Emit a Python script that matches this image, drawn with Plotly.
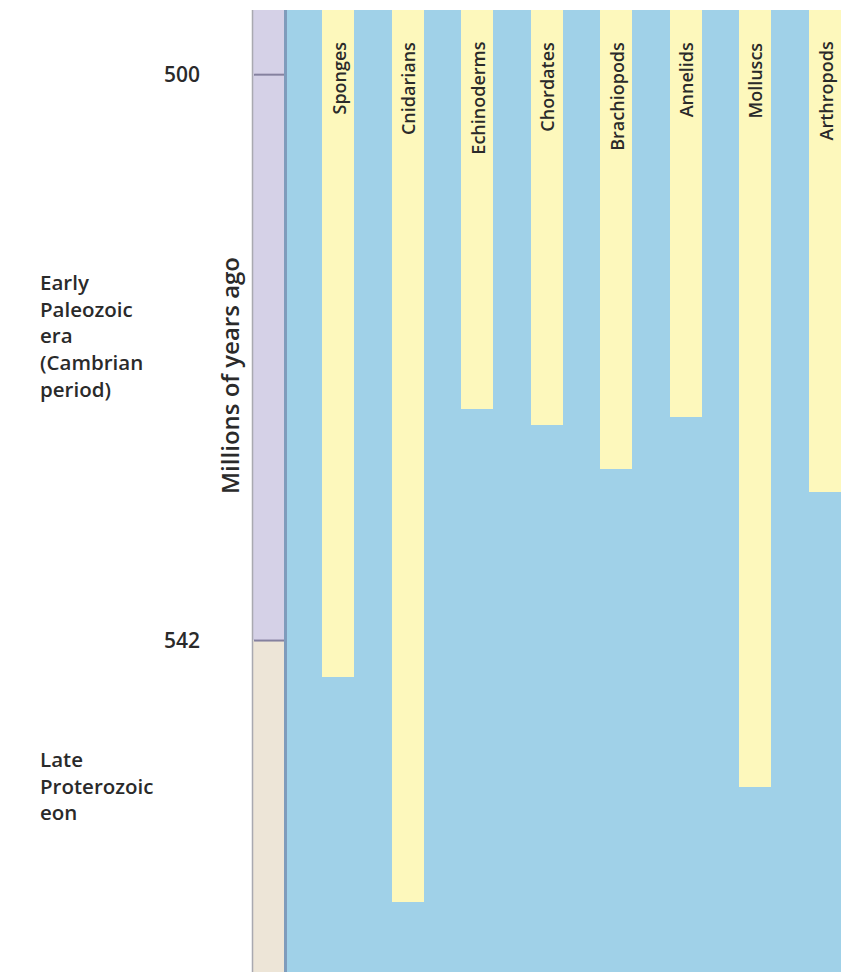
import plotly.graph_objects as go

# ---- data ----
categories = ["Sponges", "Cnidarians", "Echinoderms", "Chordates",
              "Brachiopods", "Annelids", "Molluscs", "Arthropods"]
# oldest fossil appearance (millions of years ago) - bottom end of each bar
first_appearance_mya = [544.7, 561.4, 524.8, 526.0, 529.3, 525.4, 552.9, 531.0]
axis_top_mya = 495.2
axis_bottom_mya = 566.6
tick_values = [500, 542]
tick_labels = ["500", "542"]
boundary_mya = 542
era_upper_lines = ["Early", "Paleozoic", "era", "(Cambrian", "period)"]
era_lower_lines = ["Late", "Proterozoic", "eon"]
y_title = "Millions of years ago"

# ---- style ----
W, H = 841, 972
BLUE = "#a0d1e8"
YELLOW = "#fdf8bc"
LAVENDER = "#d5d1e7"
BEIGE = "#ede5d7"
TXT = "#2a2a2a"
FONT = "Open Sans"

x_idx = list(range(len(categories)))
fig = go.Figure()
fig.add_trace(go.Bar(
    x=x_idx,
    y=[v - axis_top_mya for v in first_appearance_mya],
    base=axis_top_mya,
    width=0.46,
    marker=dict(color=YELLOW, line=dict(width=0)),
    hoverinfo="skip",
))

def px(x):
    return x / W

def py(y):
    return 1 - y / H

shapes = []
# time strip
shapes.append(dict(type="rect", xref="paper", yref="y", x0=px(253), x1=px(285),
                   y0=axis_top_mya, y1=boundary_mya, fillcolor=LAVENDER, line=dict(width=0), layer="above"))
shapes.append(dict(type="rect", xref="paper", yref="y", x0=px(253), x1=px(285),
                   y0=boundary_mya, y1=axis_bottom_mya, fillcolor=BEIGE, line=dict(width=0), layer="above"))
for tv in tick_values:
    shapes.append(dict(type="line", xref="paper", yref="y", x0=px(254), x1=px(284),
                       y0=tv, y1=tv, line=dict(color="#85819f", width=2), layer="above"))
shapes.append(dict(type="line", xref="paper", yref="y", x0=px(252.5), x1=px(252.5),
                   y0=axis_top_mya, y1=axis_bottom_mya, line=dict(color="#a9a9b0", width=1.5), layer="above"))
shapes.append(dict(type="line", xref="paper", yref="y", x0=px(285.5), x1=px(285.5),
                   y0=axis_top_mya, y1=axis_bottom_mya, line=dict(color="#7f9cbc", width=3), layer="above"))

annotations = []
for i, name in enumerate(categories):
    annotations.append(dict(x=i, xref="x", y=py(40), yref="paper", yanchor="top", xanchor="center",
                            text=name, textangle=-90, showarrow=False,
                            font=dict(family=FONT, size=18, color=TXT, weight=600)))
annotations.append(dict(x=px(38), xref="paper", y=py(335), yref="paper",
                        xanchor="left", yanchor="middle", align="left",
                        text="<br>".join(era_upper_lines), showarrow=False,
                        font=dict(family=FONT, size=20.5, color=TXT, weight=600)))
annotations.append(dict(x=px(38), xref="paper", y=py(785), yref="paper",
                        xanchor="left", yanchor="middle", align="left",
                        text="<br>".join(era_lower_lines), showarrow=False,
                        font=dict(family=FONT, size=20.5, color=TXT, weight=600)))
annotations.append(dict(x=px(229), xref="paper", y=py(376), yref="paper", xanchor="center", yanchor="middle",
                        text=y_title, textangle=-90, showarrow=False,
                        font=dict(family=FONT, size=24, color=TXT, weight=600)))

fig.update_layout(
    width=W, height=H,
    margin=dict(l=0, r=0, t=0, b=0),
    paper_bgcolor="white",
    plot_bgcolor=BLUE,
    showlegend=False,
    bargap=0,
    xaxis=dict(domain=[px(287), 1], range=[-0.733, 7.23], visible=False, fixedrange=True),
    yaxis=dict(domain=[0, py(10)], range=[axis_bottom_mya, axis_top_mya],
               tickvals=tick_values, ticktext=tick_labels, ticks="",
               showgrid=False, zeroline=False, showline=False, fixedrange=True,
               ticklabelstandoff=86,
               tickfont=dict(family=FONT, size=21, color=TXT, weight=600)),
    shapes=shapes,
    annotations=annotations,
)

fig.write_html(
    "out.html",
    config={"displayModeBar": False},
    post_script="document.body.style.margin='0px';document.body.style.overflow='hidden';",
)
